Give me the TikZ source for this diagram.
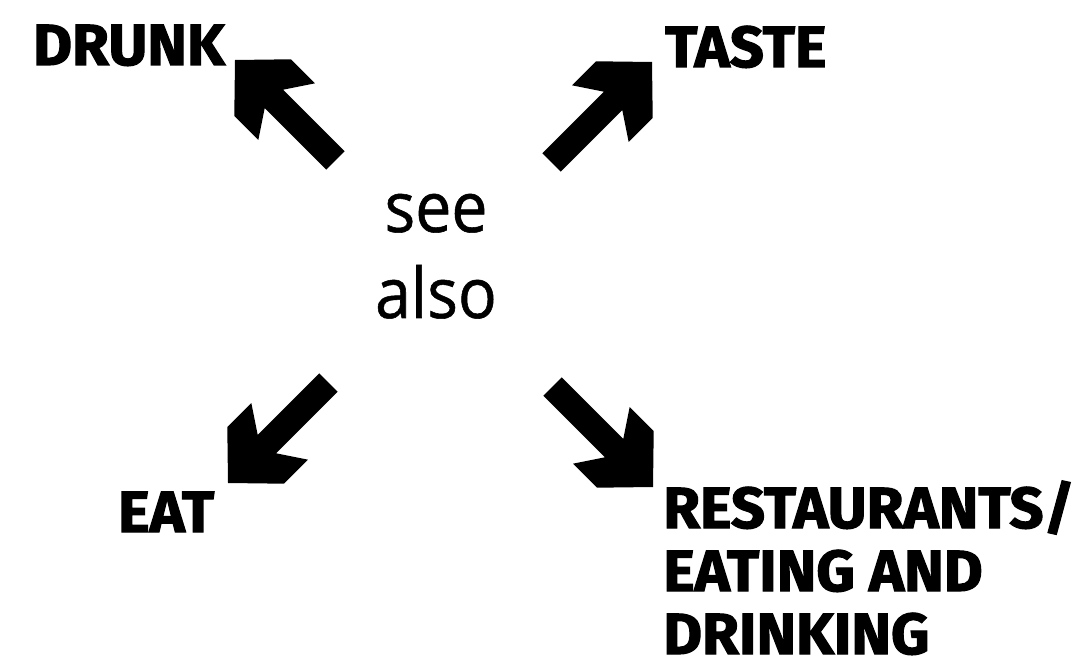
\documentclass[tikz,border=0pt]{standalone}
\usepackage{fontspec}
\setmainfont{Open Sans}
\newfontfamily\labelfont{Fira Sans}[BoldFeatures={FakeBold=2, FakeStretch=1.03}]
\usetikzlibrary{positioning}

\begin{document}
\begin{tikzpicture}[x=1pt, y=1pt, every node/.style={inner sep=0pt},
  lbl/.style={font=\labelfont\bfseries\fontsize{58}{63}\selectfont, align=left, anchor=base west},
  word/.style={font=\addfontfeature{FakeStretch=0.92, FakeBold=0.8}\fontsize{70}{86}\selectfont, anchor=base},
  bigarrow/.pic={\fill (0,0) -- (-39,40) -- (-73,40) -- (-55,13) -- (-142,13) -- (-142,-13) -- (-55,-13) -- (-73,-40) -- (-39,-40) -- cycle;}]
\useasboundingbox (0,0) rectangle (1091,667);
\node[word] (see) at (436,435) {see};
\node[word] (also) at (436,349) {also};
\node[lbl] (drunk) at (33,602) {DRUNK};
\node[lbl] (taste) at (665,600) {TASTE};
\node[lbl] (eat) at (118,135) {EAT};
\node[lbl] (rest) at (663,13) {RESTAURANTS/\\EATING AND\\DRINKING};
\coordinate (drunk tip) at (235,607);
\coordinate (taste tip) at (652,605);
\coordinate (eat tip) at (228,184);
\coordinate (rest tip) at (653,180);
\pic[rotate=135] at (drunk tip) {bigarrow};
\pic[rotate=45] at (taste tip) {bigarrow};
\pic[rotate=225] at (eat tip) {bigarrow};
\pic[rotate=-45] at (rest tip) {bigarrow};
\end{tikzpicture}
\end{document}
